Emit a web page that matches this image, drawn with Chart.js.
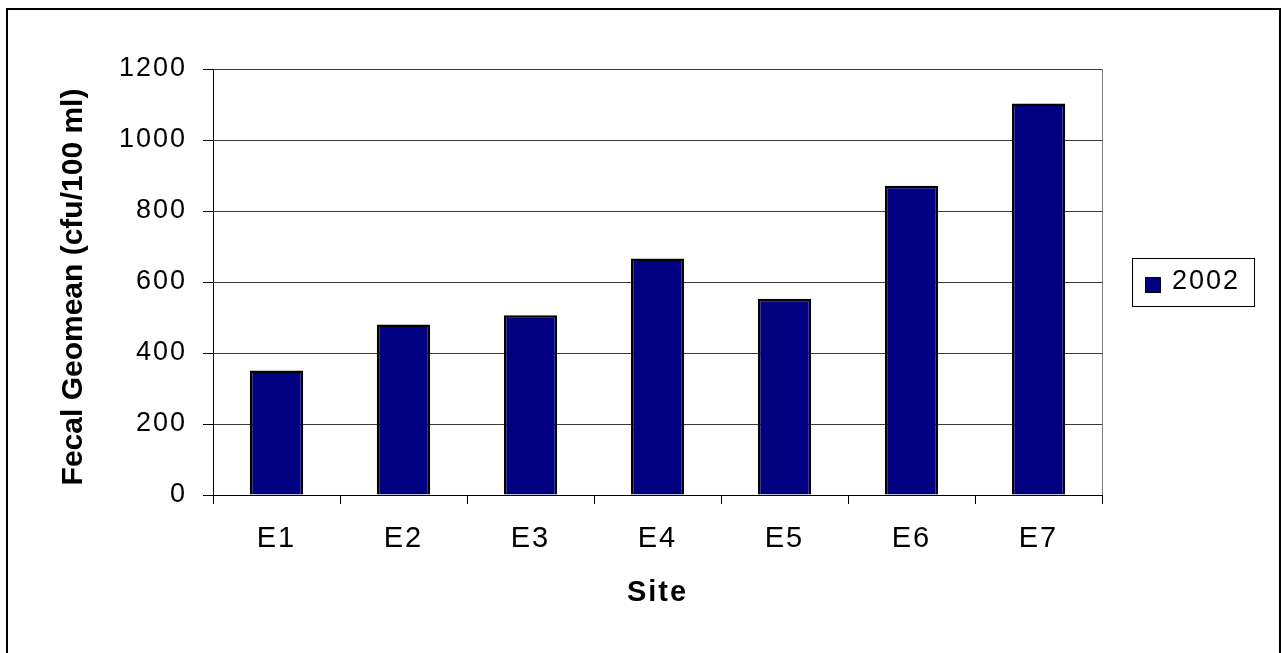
<!DOCTYPE html>
<html lang="en">
<head>
<meta charset="UTF-8">
<title>Fecal Geomean by Site</title>
<script src="https://cdn.jsdelivr.net/npm/chart.js"></script>
<style>
  body { margin: 0; background: #fff; }
  #chart { display: block; }
</style>
</head>
<body>
<canvas id="chart" width="1281" height="653"></canvas>
<script>
const sites = ["E1", "E2", "E3", "E4", "E5", "E6", "E7"];
const geomean2002 = [351, 480, 506, 666, 553, 871, 1103];
const seriesLabel = "2002";
const yTicks = { min: 0, max: 1200, step: 200 };
const yTitle = "Fecal Geomean (cfu/100 ml)";
const xTitle = "Site";

const FONT = "'Liberation Sans', Arial, sans-serif";
const SPACING = "2px";

// spread the letters a little on every label the chart draws
const spacingPlugin = {
  id: "spacing",
  beforeLayout(chart) { chart.ctx.letterSpacing = SPACING; },
  beforeDraw(chart) { chart.ctx.letterSpacing = SPACING; }
};

// outer frame, plot edge, rotated y title and the boxed legend
const decorPlugin = {
  id: "decor",
  beforeDraw(chart) {
    const ctx = chart.ctx;
    ctx.save();
    ctx.fillStyle = "#fff";
    ctx.fillRect(0, 0, chart.width, chart.height);
    ctx.restore();
  },
  afterDraw(chart) {
    const ctx = chart.ctx;
    const area = chart.chartArea;
    const ds = chart.data.datasets[0];

    ctx.save();
    ctx.strokeStyle = "#000";
    ctx.lineWidth = 2;
    ctx.strokeRect(7, 9, 1273, 670);

    ctx.strokeStyle = "#808080";
    ctx.lineWidth = 1;
    ctx.beginPath();
    ctx.moveTo(area.right + 0.5, area.top);
    ctx.lineTo(area.right + 0.5, area.bottom);
    ctx.stroke();

    // y axis title
    ctx.save();
    ctx.letterSpacing = "0px";
    ctx.translate(74, 287);
    ctx.rotate(-Math.PI / 2);
    ctx.font = "bold 30px " + FONT;
    ctx.fillStyle = "#000";
    ctx.textAlign = "center";
    ctx.textBaseline = "middle";
    ctx.fillText(yTitle, 0, 0);
    ctx.restore();

    // legend
    ctx.strokeStyle = "#000";
    ctx.lineWidth = 1;
    ctx.strokeRect(1132.5, 258.5, 122, 48);
    ctx.fillStyle = ds.backgroundColor;
    ctx.fillRect(1145, 277, 15, 15);
    ctx.strokeRect(1145.5, 277.5, 15, 15);
    ctx.letterSpacing = SPACING;
    ctx.font = "27px " + FONT;
    ctx.fillStyle = "#000";
    ctx.textAlign = "left";
    ctx.textBaseline = "middle";
    ctx.fillText(ds.label, 1172, 282);
    ctx.restore();
  }
};

new Chart(document.getElementById("chart"), {
  type: "bar",
  data: {
    labels: sites,
    datasets: [{
      label: seriesLabel,
      data: geomean2002,
      backgroundColor: "#000080",
      borderColor: "#000",
      borderWidth: 2.5,
      barPercentage: 0.42,
      categoryPercentage: 1
    }]
  },
  options: {
    responsive: false,
    animation: false,
    devicePixelRatio: 1,
    layout: { padding: { top: 69, right: 179, bottom: 0, left: 0 } },
    plugins: {
      legend: { display: false },
      tooltip: { enabled: false }
    },
    scales: {
      x: {
        grid: { offset: true, drawOnChartArea: false, tickLength: 9, tickColor: "#000" },
        border: { color: "#000", width: 1 },
        ticks: { color: "#000", font: { family: FONT, size: 29 }, padding: 18, maxRotation: 0 },
        title: {
          display: true,
          text: xTitle,
          color: "#000",
          font: { family: FONT, size: 29, weight: "bold" },
          padding: { top: 0, bottom: 43 }
        },
        afterFit(scale) { scale.height = 158; }
      },
      y: {
        min: yTicks.min,
        max: yTicks.max,
        ticks: {
          stepSize: yTicks.step,
          color: "#000",
          font: { family: FONT, size: 27 },
          padding: 16,
          callback: (v) => String(v)
        },
        grid: { color: "#3a3a3a", tickColor: "#000", tickLength: 10 },
        border: { color: "#000", width: 1 },
        afterFit(scale) { scale.width = 213; }
      }
    }
  },
  plugins: [spacingPlugin, decorPlugin]
});
</script>
</body>
</html>
